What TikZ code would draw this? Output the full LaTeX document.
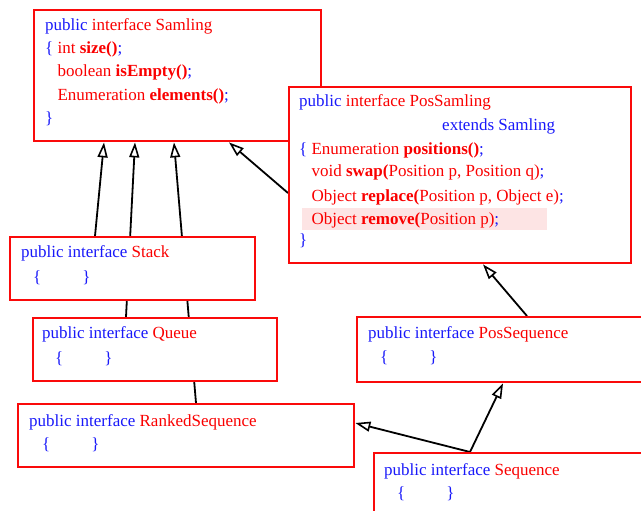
\documentclass[tikz,border=0pt]{standalone}
\usepackage{fontspec}
\setmainfont{Liberation Serif}
\usetikzlibrary{arrows.meta,backgrounds}

\definecolor{kwblue}{RGB}{25,25,250}
\definecolor{idred}{RGB}{250,0,0}
\definecolor{boxred}{RGB}{250,10,10}
\definecolor{hilite}{RGB}{253,228,228}

% small helpers for the code listings
\newcommand{\kw}[1]{\textcolor{kwblue}{#1}}
\newcommand{\rd}[1]{\textcolor{idred}{#1}}
\newcommand{\mb}[1]{\textcolor{idred}{\bfseries #1}}
\newcommand{\semi}{\kw{;}}
\newcommand{\ind}{\hphantom{\{\ }}
\newcommand{\emptybody}{\kw{\{\hspace{41pt}\}}}

\begin{document}
\begin{tikzpicture}[x=1pt,y=-1pt,
  box/.style={draw=boxred, line width=2.4pt, fill=white, anchor=north west,
              inner sep=0pt, minimum height=63pt},
  code/.style={anchor=base west, inner sep=0pt,
               font=\fontsize{17}{20}\selectfont},
  inh/.style={draw=black, line width=1.8pt,
              -{Triangle[open, length=15pt, width=10pt, line width=1.6pt]}}
  ]
  \useasboundingbox (0,0) rectangle (641,511);
  \clip (0,0) rectangle (641,511);

  % ---- Samling
  \node[box, minimum width=287pt, minimum height=131pt] (samling) at (33,9) {};
  \node[code] (samT1) at (45,31)  {\kw{public} \rd{interface Samling}};
  \node[code] (samT2) at (45,54)  {\kw{\{} \rd{int} \mb{size()}\semi};
  \node[code] (samT3) at (45,77)  {\ind\rd{boolean} \mb{isEmpty()}\semi};
  \node[code] (samT4) at (45,101) {\ind\rd{Enumeration} \mb{elements()}\semi};
  \node[code] (samT5) at (45,124) {\kw{\}}};

  % ---- PosSamling
  \node[box, minimum width=342pt, minimum height=176pt] (possamling) at (288,86) {};
  \fill[hilite] (302,208) rectangle (547,230);
  \node[code] (psT1) at (299,107) {\kw{public} \rd{interface PosSamling}};
  \node[code] (psT2) at (442,131) {\kw{extends Samling}};
  \node[code] (psT3) at (299,154) {\kw{\{} \rd{Enumeration} \mb{positions()}\semi};
  \node[code] (psT4) at (299,177) {\ind\rd{void} \mb{swap(}\rd{Position p, Position q)}\semi};
  \node[code] (psT5) at (299,201) {\ind\rd{Object} \mb{replace(}\rd{Position p, Object e)}\semi};
  \node[code] (psT6) at (299,224) {\ind\rd{Object} \mb{remove(}\rd{Position p)}\semi};
  \node[code] (psT7) at (299,245) {\kw{\}}};

  % ---- Stack
  \node[box, minimum width=245pt] (stack) at (9,236) {};
  \node[code] (stT1) at (21,257) {\kw{public interface} \rd{Stack}};
  \node[code] (stT2) at (33,282) {\emptybody};

  % ---- Queue
  \node[box, minimum width=244pt] (queue) at (32,317) {};
  \node[code] (quT1) at (42,338) {\kw{public interface} \rd{Queue}};
  \node[code] (quT2) at (55,363) {\emptybody};

  % ---- RankedSequence
  \node[box, minimum width=336pt] (ranked) at (17,403) {};
  \node[code] (rsT1) at (29,426) {\kw{public interface} \rd{RankedSequence}};
  \node[code] (rsT2) at (42,449) {\emptybody};

  % ---- PosSequence
  \node[box, minimum width=300pt, minimum height=65pt] (posseq) at (356,316) {};
  \node[code] (pqT1) at (368,338) {\kw{public interface} \rd{PosSequence}};
  \node[code] (pqT2) at (380,362) {\emptybody};

  % ---- Sequence
  \node[box, minimum width=300pt, minimum height=80pt] (seq) at (373,452) {};
  \node[code] (sqT1) at (384,475) {\kw{public interface} \rd{Sequence}};
  \node[code] (sqT2) at (397,498) {\emptybody};

  % ---- inheritance arrows, kept behind the boxes
  \begin{pgfonlayer}{background}
    \draw[inh] ([xshift=86pt]stack.north west)   -- ([xshift=71pt]samling.south west);
    \draw[inh] ([xshift=94pt]queue.north west)   -- ([xshift=102pt]samling.south west);
    \draw[inh] ([xshift=179pt]ranked.north west) -- ([xshift=141pt]samling.south west);
    \draw[inh] ([yshift=-107pt]possamling.north west) -- ([xshift=196pt]samling.south west);
    \draw[inh] ([xshift=171pt]posseq.north west) -- ([xshift=195pt]possamling.south west);
    \draw[inh] ([xshift=97pt]seq.north west)     -- ([xshift=147pt]posseq.south west);
    \draw[inh] ([xshift=97pt]seq.north west)     -- ([yshift=-20pt]ranked.north east);
  \end{pgfonlayer}
\end{tikzpicture}
\end{document}
